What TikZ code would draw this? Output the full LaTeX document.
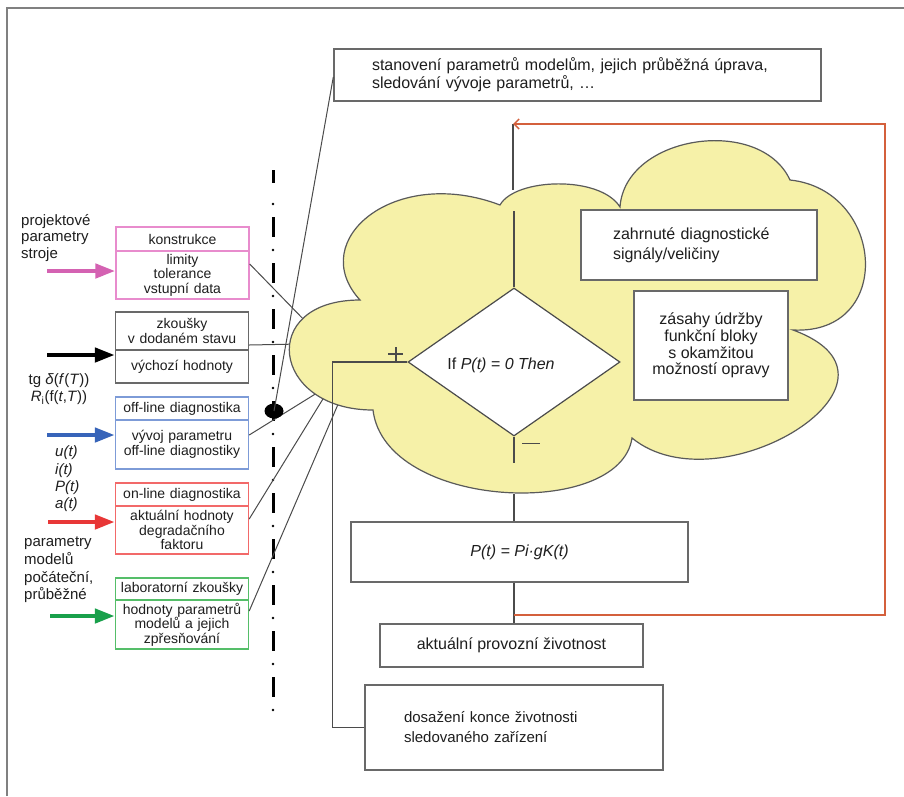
\documentclass[tikz,border=0pt]{standalone}
\usepackage{fontspec}
\setmainfont{Liberation Sans}
\usetikzlibrary{shapes.geometric,arrows.meta,calc}

\definecolor{cloudfill}{RGB}{246,241,168}
\definecolor{cloudedge}{RGB}{90,90,90}
\definecolor{boxedge}{RGB}{105,105,105}
\definecolor{flowline}{RGB}{75,75,75}
\definecolor{feedback}{RGB}{212,96,60}
\definecolor{pinkedge}{RGB}{232,140,205}
\definecolor{pinkarrow}{RGB}{212,98,178}
\definecolor{blueedge}{RGB}{125,155,215}
\definecolor{bluearrow}{RGB}{55,100,185}
\definecolor{rededge}{RGB}{242,105,105}
\definecolor{redarrow}{RGB}{232,55,55}
\definecolor{greenedge}{RGB}{85,190,105}
\definecolor{greenarrow}{RGB}{25,160,75}
\definecolor{txt}{RGB}{30,30,30}

\newcommand\fsz[2]{\fontsize{#1}{#2}\selectfont}

\tikzset{
  sec/.style={draw=#1, line width=1.4pt, fill=white, minimum width=133pt,
    text width=129pt, align=center, inner sep=0pt,
    font=\fsz{14}{14.5}, text=txt},
  plainbox/.style={draw=boxedge, line width=1.4pt, fill=white, inner sep=0pt,
    font=\fsz{16}{18}, text=txt},
  flow/.style={draw=flowline, line width=1.2pt},
  link/.style={draw=flowline, line width=1pt},
  feed/.style={draw=feedback, line width=1.5pt,
    -{Straight Barb[length=5pt,width=10pt]}},
  inarrow/.style={line width=4.5pt, -{Triangle[length=20pt,width=14pt]}},
  lbl/.style={inner sep=0pt, text=txt},
  decision/.style={diamond, draw=flowline, line width=1.2pt, fill=white,
    minimum width=212pt, minimum height=148pt, inner sep=0pt},
  cloudshape/.style={fill=cloudfill, draw=cloudedge, line width=1.2pt},
  axisdash/.style={line width=3pt, black},
}

\begin{document}
\begin{tikzpicture}[x=1pt,y=-1pt]
  % canvas and frame
  \fill[white] (0,0) rectangle (904,796);
  \useasboundingbox (0,0) rectangle (904,796);
  \draw[boxedge!85, line width=1.5pt] (7,796) -- (7,8) -- (904,8);

  % dash-dot separation axis
  \draw[axisdash] (273,170) -- (273,183);
  \foreach \k in {0,...,10} {
    \draw[axisdash] (273,217+46*\k) -- (273,237+46*\k);
  }
  \foreach \k in {0,...,11} {
    \fill (273,204+46*\k) circle (1.4pt);
  }

  % left side: input blocks
  \node[sec=pinkedge, minimum height=48pt] (pinkB) at (182.5,275) {limity\\tolerance\\vstupní data};
  \node[sec=pinkedge, minimum height=24pt] (pinkA) at (182.5,239) {konstrukce};
  \node[sec=boxedge, minimum height=33pt] (grayB) at (182,366.5) {výchozí hodnoty};
  \node[sec=boxedge, minimum height=38pt] (grayA) at (182,331) {zkoušky\\v dodaném stavu};
  \node[sec=blueedge, minimum height=49pt] (blueB) at (182,444.5) {vývoj parametru\\off-line diagnostiky};
  \node[sec=blueedge, minimum height=23pt] (blueA) at (182,408.5) {off-line diagnostika};
  \node[sec=rededge, minimum height=48pt] (redB) at (182,530) {aktuální hodnoty\\degradačního\\faktoru};
  \node[sec=rededge, minimum height=23pt] (redA) at (182,494.5) {on-line diagnostika};
  \node[sec=greenedge, minimum height=49pt] (greenB) at (182,624.5) {hodnoty parametrů\\modelů a jejich\\zpřesňování};
  \node[sec=greenedge, minimum height=22pt] (greenA) at (182,589) {laboratorní zkoušky};

  % outer labels
  \node[lbl, anchor=west, align=left, font=\fsz{15}{16.2}] (projlbl) at (21,238)
    {projektové\\parametry\\stroje};
  \node[lbl, align=center, font=\fsz{15}{17}] (tglbl) at (59,389)
    {tg \textit{δ}(\textit{f}(\textit{T}))\\\textit{R}\textsubscript{i}(f(\textit{t},\textit{T}))};
  \node[lbl, anchor=west, align=left, font=\fsz{15}{17.3}\itshape] (siglbl) at (55,479)
    {u(t)\\i(t)\\P(t)\\a(t)};
  \node[lbl, anchor=west, align=left, font=\fsz{15}{17.7}] (modlbl) at (24,570)
    {parametry\\modelů\\počáteční,\\průběžné};

  % input arrows
  \coordinate (inP) at (47,271);
  \coordinate (inK) at (47,355);
  \coordinate (inB) at (47,435);
  \coordinate (inR) at (48,522);
  \coordinate (inG) at (50,616);
  \draw[inarrow, pinkarrow] (inP) -- ([yshift=4pt]pinkB.west);
  \draw[inarrow, black] (inK) -- ([yshift=11.5pt]grayB.west);
  \draw[inarrow, bluearrow] (inB) -- ([yshift=9.5pt]blueB.west);
  \draw[inarrow, redarrow] (inR) -- ([yshift=8pt]redB.west);
  \draw[inarrow, greenarrow] (inG) -- ([yshift=8.5pt]greenB.west);

  % top note
  \node[plainbox, text width=411pt, inner xsep=38pt, minimum height=52pt,
        align=left] (topbox) at (577.5,75)
    {stanovení parametrů modelům, jejich průběžná úprava,\\sledování vývoje parametrů, …};

  % links from the blocks into the cloud (ends hidden under the cloud)
  \coordinate (cP) at (310,326);
  \coordinate (cK) at (300,344);
  \coordinate (cB) at (325,388);
  \coordinate (cR) at (326,394);
  \coordinate (cG) at (339,402);
  \draw[link] ([yshift=11pt]pinkB.east) -- (cP);
  \draw[link] ([yshift=-14pt]grayA.east) -- (cK);
  \draw[link] ([yshift=9.5pt]blueB.east) -- (cB);
  \draw[link] ([yshift=11pt]redB.east) -- (cR);
  \draw[link] ([yshift=13.5pt]greenB.east) -- (cG);

  \node[ellipse, fill=black, minimum width=19pt, minimum height=15pt, inner sep=0pt] (dot) at (274,411) {};
  \draw[link] ([yshift=-2pt]topbox.west) -- (dot.center);

  % the cloud
  \path[cloudshape] (373,410)
    .. controls (271,410) and (257,300) .. (360,300)
    .. controls (305,240) and (395,165) .. (500,205)
    .. controls (515,178) and (600,175) .. (620,207)
    .. controls (625,135) and (760,115) .. (790,180)
    .. controls (885,190) and (895,335) .. (793,330)
    .. controls (930,380) and (720,510) .. (632,438)
    .. controls (620,520) and (385,510) .. (373,410) -- cycle;

  % content of the cloud
  \node[plainbox, text width=172pt, inner xsep=32pt, minimum height=70pt,
        align=left, font=\fsz{16}{20}] (zahr) at (699,245)
    {zahrnuté diagnostické\\signály/veličiny};
  \node[plainbox, minimum width=154pt, minimum height=109pt, align=center,
        font=\fsz{16}{16.7}] (zas) at (711,345.5)
    {zásahy údržby\\funkční bloky\\s okamžitou\\možností opravy};
  \node[decision] (dec) at (514,362) {};
  \node[lbl, font=\fsz{16}{18}] (dectext) at (501,365) {If \textit{P(t) = 0 Then}};

  % lower flow blocks
  \node[plainbox, minimum width=337pt, minimum height=60pt, font=\fsz{16}{18}\itshape] (pbox) at (519.5,552)
    {P(t) = Pi·gK(t)};
  \node[plainbox, minimum width=263pt, minimum height=43pt] (akt) at (511.5,645.5)
    {aktuální provozní životnost};
  \node[plainbox, text width=220pt, inner xsep=39pt, minimum height=85pt,
        align=left, font=\fsz{15}{20}] (dos) at (514,727.5)
    {dosažení konce životnosti\\sledovaného zařízení};

  % flow lines
  \coordinate (loopin) at (513,124);
  \coordinate (fbcorner) at (885,124);
  \draw[flow] (loopin) -- ++(0,66);
  \draw[flow] (dec.north) -- ++(0,-76);
  \draw[flow] (dec.south) -- ++(0,26);
  \draw[flow] (pbox.north -| dec.south) -- ++(0,-27);
  \draw[flow] (pbox.south -| dec.south) -- (akt.north -| dec.south);
  \draw[flow] (dec.west) -- ++(-75,0) |- (dos.west);

  % branch signs
  \draw[flow] ($(dec.west)+(-19,-8)$) -- ++(15,0);
  \draw[flow] ($(dec.west)+(-11.5,-15)$) -- ++(0,15);
  \draw[flow] ($(dec.south)+(8,7)$) -- ++(18,0);

  % feedback loop
  \coordinate (fbfrom) at ($(pbox.south -| dec.south)!0.8!(akt.north -| dec.south)$);
  \draw[feed] (fbfrom) -| (fbcorner) -- (loopin);
\end{tikzpicture}
\end{document}
